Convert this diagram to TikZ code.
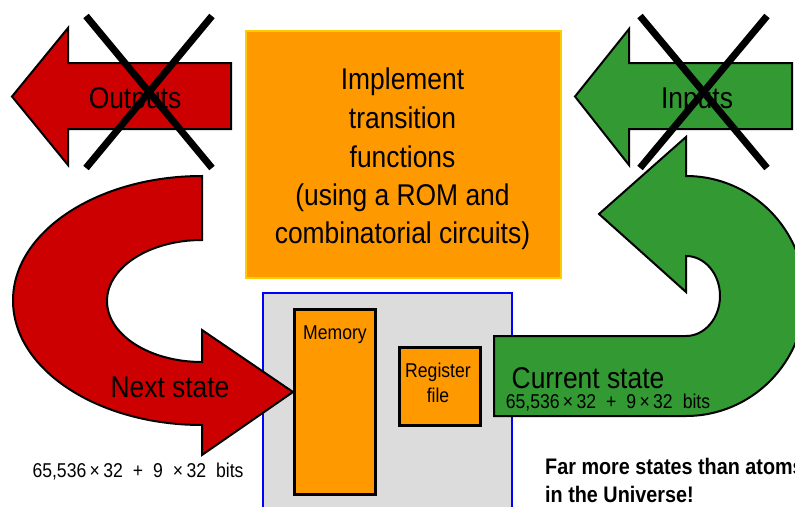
\documentclass[tikz,border=0pt]{standalone}
\usepackage{fontspec}
\setmainfont[FakeStretch=0.88]{Liberation Sans}
\definecolor{arrowred}{HTML}{CC0000}
\definecolor{arrowgreen}{HTML}{339933}
\definecolor{boxorange}{HTML}{FF9900}
\definecolor{boxgold}{HTML}{FFCC00}
\definecolor{panelgray}{HTML}{DCDCDC}
\newcommand{\fs}[1]{\fontsize{#1}{#1}\selectfont}
\begin{document}
\begin{tikzpicture}[x=1pt,y=1pt,
  bigarrow/.style={draw=black,line width=2pt,line join=miter},
  cross/.style={draw=black,line width=7pt},
  label/.style={inner sep=0pt,anchor=base,text=black},
  plainbox/.style={draw=black,line width=2.6pt,fill=boxorange,inner sep=0pt}]
\clip (0,0) rectangle (795,-506);
\fill[white] (0,0) rectangle (795,-506);

% datapath panel with memory and register file
\node[draw=blue,line width=2pt,fill=panelgray,inner sep=0pt,
      minimum width=249pt,minimum height=230pt,anchor=north west] (panel) at (262,-292) {};
\node[plainbox,minimum width=81pt,minimum height=185pt,anchor=north west] (mem) at (293,-308) {};
\node[plainbox,minimum width=81pt,minimum height=78pt,anchor=north west] (reg) at (398,-346) {};
\node[label] (memtxt) at (335,-339) {\fs{20}Memory};
\node[label] (regtxt1) at (438,-377) {\fs{20}Register};
\node[label] (regtxt2) at (438,-402) {\fs{20}file};

% next-state loop (red)
\filldraw[bigarrow,fill=arrowred]
  (202,-176) arc[start angle=90,end angle=270,x radius=189,y radius=124.5]
  -- (202,-455) -- (293,-392) -- (202,-330) -- (202,-362)
  arc[start angle=270,end angle=90,x radius=95,y radius=61]
  -- cycle;
\node[label] (nexttxt) at (170,-397) {\fs{30}Next state};
\node[label] (nextbits) at (138,-477) {\fs{20}65,536\,×\,32\hspace{10pt}+\hspace{10pt}9\hspace{10pt}×\,32\hspace{10pt}bits};

% current-state loop (green)
\filldraw[bigarrow,fill=arrowgreen]
  (494,-336) -- (686,-336)
  arc[start angle=-90,end angle=90,x radius=34,y radius=40]
  -- (686,-292) -- (599,-214) -- (686,-137) -- (686,-176)
  arc[start angle=90,end angle=-90,x radius=119,y radius=120]
  -- (494,-416) -- cycle;
\node[label] (curtxt) at (588,-388) {\fs{30}Current state};
\node[label] (curbits) at (608,-408) {\fs{20}65,536\,×\,32\hspace{10pt}+\hspace{10pt}9\,×\,32\hspace{10pt}bits};

% transition-function block
\node[draw=boxgold,line width=2pt,fill=boxorange,inner sep=0pt,
      minimum width=315pt,minimum height=247pt,anchor=north west] (rom) at (245,-30) {};
\node[label] (romtxt1) at (402.5,-89) {\fs{30}Implement};
\node[label] (romtxt2) at (402.5,-128) {\fs{30}transition};
\node[label] (romtxt3) at (402.5,-167) {\fs{30}functions};
\node[label] (romtxt4) at (402.5,-205) {\fs{30}(using a ROM and};
\node[label] (romtxt5) at (402.5,-243) {\fs{30}combinatorial circuits)};

% crossed-out outputs and inputs
\filldraw[bigarrow,fill=arrowred]
  (231,-63) -- (68,-63) -- (68,-28) -- (12,-96.5) -- (68,-165) -- (68,-129) -- (231,-129) -- cycle;
\node[label] (outtxt) at (135,-108) {\fs{30}Outputs};
\draw[cross] (86,-16) -- (212,-168);
\draw[cross] (212,-16) -- (86,-168);

\filldraw[bigarrow,fill=arrowgreen]
  (792,-63) -- (629,-63) -- (629,-29) -- (575,-96.5) -- (629,-165) -- (629,-129) -- (792,-129) -- cycle;
\node[label] (intxt) at (697,-108) {\fs{30}Inputs};
\draw[cross] (640,-16) -- (767,-168);
\draw[cross] (767,-16) -- (640,-168);

% remark
\node[label,anchor=base west] (note1) at (545,-474) {\fs{22.5}\bfseries Far more states than atoms};
\node[label,anchor=base west] (note2) at (545,-502) {\fs{22.5}\bfseries in the Universe!};
\end{tikzpicture}
\end{document}
